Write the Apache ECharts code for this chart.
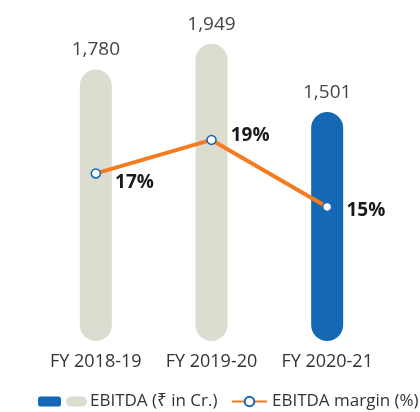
<!DOCTYPE html>
<html>
<head>
<meta charset="utf-8">
<script src="https://cdn.jsdelivr.net/npm/echarts@6/dist/echarts.min.js"></script>
<style>
  html, body { margin: 0; padding: 0; background: #fff; }
  #chart { width: 420px; height: 412px; }
</style>
</head>
<body>
<div id="chart"></div>
<script>
var years = ['FY 2018-19', 'FY 2019-20', 'FY 2020-21'];
var ebitda = [1780, 1949, 1501];
var margin = [17, 19, 15];
var marginOffsets = [[6, 9], [6, -4], [6, 4]];

var grey = '#dcdcd1';
var blue = '#1468b4';
var orange = '#f47c20';
var font = '"Open Sans", "Noto Sans", sans-serif';

var chart = echarts.init(document.getElementById('chart'));

chart.setOption({
  animation: false,
  textStyle: { fontFamily: font },
  grid: { left: 38, right: 35, top: 36, bottom: 71 },
  legend: [
    {
      left: 33, top: 388,
      itemWidth: 23, itemHeight: 10, itemGap: 10,
      data: [{ name: 'EBITDA (₹ in Cr.)', icon: 'roundRect', itemStyle: { color: blue } }],
      formatter: function (name) { return '{g|}{t|' + name + '}'; },
      textStyle: {
        rich: {
          g: { backgroundColor: grey, width: 21, height: 10, borderRadius: 5 },
          t: { fontSize: 17, color: '#333', fontFamily: font, padding: [0, 0, 0, 3] }
        }
      }
    },
    {
      left: 226, top: 388,
      itemWidth: 35, itemHeight: 12,
      data: [{ name: 'EBITDA margin (%)' }],
      textStyle: { fontSize: 17, color: '#333', fontFamily: font }
    }
  ],
  xAxis: {
    type: 'category',
    data: years,
    axisLine: { show: false },
    axisTick: { show: false },
    axisLabel: { color: '#333', fontSize: 18, margin: 12, interval: 0, fontFamily: font }
  },
  yAxis: [
    { type: 'value', min: 0, max: 2000, show: false },
    { type: 'value', min: 7, max: 25.2, show: false }
  ],
  series: [
    {
      name: 'EBITDA (₹ in Cr.)',
      type: 'bar',
      barWidth: 32,
      data: ebitda.map(function (v, i) {
        return { value: v, itemStyle: { color: i === ebitda.length - 1 ? blue : grey } };
      }),
      itemStyle: { color: grey, borderRadius: 16 },
      label: {
        show: true,
        position: 'top',
        distance: 10,
        color: '#444',
        fontSize: 19,
        fontFamily: font,
        formatter: function (p) { return p.value.toLocaleString('en-US'); }
      }
    },
    {
      name: 'EBITDA margin (%)',
      type: 'line',
      yAxisIndex: 1,
      data: margin.map(function (v, i) {
        return { value: v, label: { offset: marginOffsets[i] } };
      }),
      symbol: 'circle',
      symbolSize: 9,
      lineStyle: { color: orange, width: 4 },
      itemStyle: { color: '#fff', borderColor: blue, borderWidth: 1.5 },
      label: {
        show: true,
        position: 'right',
        distance: 8,
        color: '#1a1a1a',
        fontSize: 19,
        fontWeight: 'bold',
        fontFamily: font,
        formatter: '{c}%'
      },
      z: 3
    }
  ]
});
</script>
</body>
</html>
